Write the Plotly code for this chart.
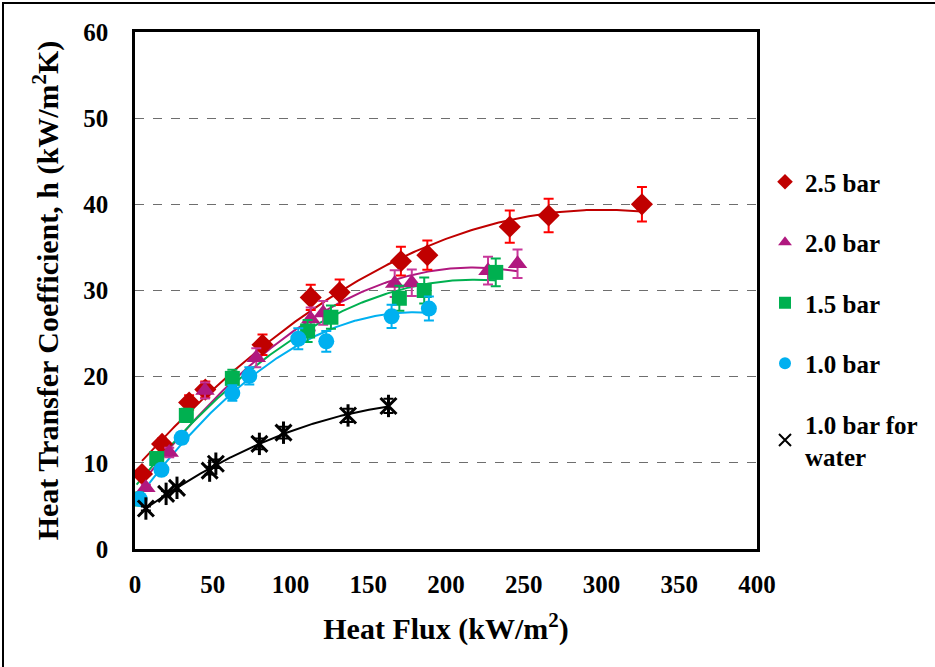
import numpy as np
import plotly.graph_objects as go

# ---- data ----
q25 = [4.5, 17.4, 34.8, 45.2, 82, 113, 131.6, 171, 188, 241, 266, 326]
h25 = [8.7, 12.2, 17.0, 18.5, 23.7, 29.2, 29.8, 33.4, 34.1, 37.4, 38.7, 40.0]

q20 = [7, 22, 45, 78, 113, 121, 167, 178, 227, 246]
h20 = [7.1, 11.2, 18.4, 22.2, 26.7, 27.4, 30.8, 30.9, 32.3, 33.1]

q15 = [1, 14, 33, 62.6, 111, 126, 170, 186, 232]
h15 = [5.8, 10.5, 15.5, 19.8, 25.3, 26.9, 29.1, 30.0, 32.1]

q10 = [3, 17, 30, 62.6, 73.5, 105, 123, 165, 189]
h10 = [5.8, 9.2, 12.9, 18.1, 20.1, 24.4, 24.1, 27.0, 27.9]

qw = [7, 20, 27, 48, 52, 80, 95.5, 137, 163]
hw = [4.7, 6.4, 7.1, 9.1, 9.9, 12.2, 13.5, 15.5, 16.6]

err_pct = 5  # percent error bars

series = [
    dict(name="2.5 bar", q=q25, h=h25, color="#C00000", ecolor="#FF0000", symbol="diamond", size=17),
    dict(name="2.0 bar", q=q20, h=h20, color="#B0187F", ecolor="#C8379A", symbol="triangle-up", size=17),
    dict(name="1.5 bar", q=q15, h=h15, color="#00B050", ecolor="#00B050", symbol="square", size=15),
    dict(name="1.0 bar", q=q10, h=h10, color="#00B0F0", ecolor="#00B0F0", symbol="circle", size=16),
    dict(name="1.0 bar for<br>water", q=qw, h=hw, color="#000000", ecolor="#000000", symbol="x-thin-open", size=16),
]

FONT = "Liberation Serif"

fig = go.Figure()

# trendlines (2nd order polynomial fits of each series)
for s in series:
    c = np.polyfit(s["q"], s["h"], 2)
    xs = np.linspace(min(s["q"]), max(s["q"]), 200)
    fig.add_trace(go.Scatter(x=xs, y=np.polyval(c, xs), mode="lines",
                             line=dict(color=s["color"], width=2),
                             showlegend=False, hoverinfo="skip"))

for i, s in enumerate(series):
    mk = dict(symbol=s["symbol"], size=s["size"], color=s["color"])
    if s["symbol"].endswith("open"):
        mk["line"] = dict(color=s["color"], width=3)
    fig.add_trace(go.Scatter(
        x=s["q"], y=s["h"], mode="markers", name=s["name"],
        marker=mk, legendgroup=f"g{i}",
        error_y=dict(type="percent", value=err_pct, color=s["ecolor"],
                     thickness=2, width=5),
    ))
    if s["symbol"] == "x-thin-open":
        fig.add_trace(go.Scatter(
            x=s["q"], y=s["h"], mode="markers", showlegend=False,
            marker=dict(symbol="line-ns-open", size=s["size"], color=s["color"],
                        line=dict(color=s["color"], width=3)),
            hoverinfo="skip"))

L, R, T, B = 135, 178, 32, 118
W, H = 935, 667
pw, ph = W - L - R, H - T - B

def px_x(p):
    return (p - L) / pw

def px_y(p):
    return (H - B - p) / ph

fig.update_layout(
    width=W, height=H,
    margin=dict(l=L, r=R, t=T, b=B),
    paper_bgcolor="white", plot_bgcolor="white",
    font=dict(family=FONT, color="black", size=25, weight="bold"),
    showlegend=True,
    legend=dict(x=px_x(765), y=px_y(159), xanchor="left", yanchor="top",
                font=dict(family=FONT, size=25, color="black", weight="bold"),
                tracegroupgap=25, traceorder="grouped",
                itemsizing="constant", bgcolor="rgba(0,0,0,0)"),
    xaxis=dict(range=[0, 400], dtick=50, showgrid=False, zeroline=False,
               showline=True, linecolor="black", linewidth=2.5, mirror=True,
               ticks="", ticklabelstandoff=11,
               tickfont=dict(family=FONT, size=25, weight="bold"),
               title=dict(text="Heat Flux (kW/m<sup>2</sup>)", standoff=22,
                          font=dict(family=FONT, size=30, weight="bold"))),
    yaxis=dict(range=[0, 60], dtick=10, showgrid=True, gridcolor="#6e6e6e",
               griddash="dash", gridwidth=1.2, zeroline=False,
               showline=True, linecolor="black", linewidth=2.5, mirror=True,
               ticks="", ticklabelstandoff=19,
               tickfont=dict(family=FONT, size=25, weight="bold"),
               title=dict(text="Heat Transfer Coefficient, h (kW/m<sup>2</sup>K)", standoff=16,
                          font=dict(family=FONT, size=30, weight="bold"))),
    shapes=[dict(type="rect", xref="paper", yref="paper",
                 x0=px_x(3), x1=px_x(945), y0=px_y(3), y1=px_y(680),
                 line=dict(color="black", width=2), layer="below")],
)

fig.write_html("out.html")
